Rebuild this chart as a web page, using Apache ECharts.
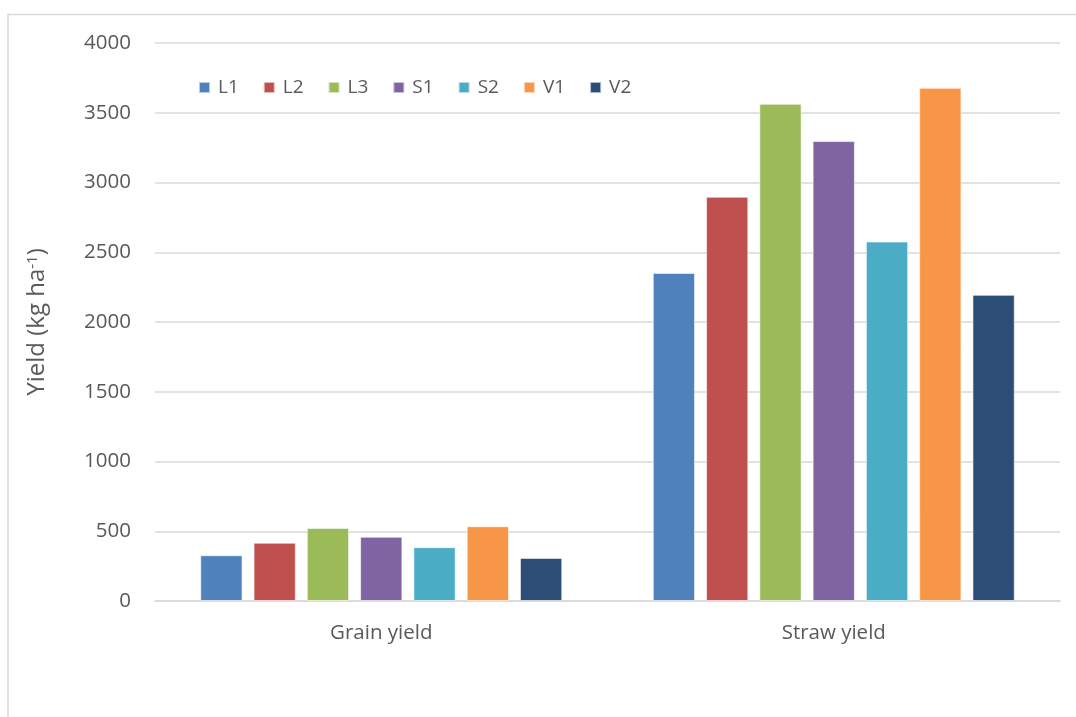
<!DOCTYPE html>
<html>
<head>
<meta charset="utf-8">
<script src="https://cdn.jsdelivr.net/npm/echarts@6/dist/echarts.min.js"></script>
<style>
html,body{margin:0;padding:0;background:#fff;}
#chart{width:1076px;height:717px;}
</style>
</head>
<body>
<div id="chart"></div>
<script>
const categories = ['Grain yield', 'Straw yield'];
const seriesNames = ['L1', 'L2', 'L3', 'S1', 'S2', 'V1', 'V2'];
const L1 = [328, 2352];
const L2 = [418, 2898];
const L3 = [524, 3564];
const S1 = [461, 3297];
const S2 = [386, 2577];
const V1 = [536, 3679];
const V2 = [309, 2195];
const yTicks = [0, 500, 1000, 1500, 2000, 2500, 3000, 3500, 4000];

const values = [L1, L2, L3, S1, S2, V1, V2];
const colors = ['#4F81BD', '#C0504D', '#9BBB59', '#8064A2', '#4BACC6', '#F79646', '#2C4D75'];
const FONT = 'Open Sans';
const TXT = '#595959';

const chart = echarts.init(document.getElementById('chart'), null, {renderer: 'canvas'});
chart.setOption({
  animation: false,
  backgroundColor: '#ffffff',
  textStyle: {fontFamily: FONT},
  graphic: [{
    type: 'rect',
    shape: {x: 8, y: 14.5, width: 1100, height: 720},
    style: {fill: 'none', stroke: '#d9d9d9', lineWidth: 1.5},
    silent: true,
    z: -1
  }],
  legend: {
    data: seriesNames,
    left: 193,
    top: 73,
    itemWidth: 11,
    itemHeight: 11,
    itemGap: 24,
    icon: 'rect',
    textStyle: {color: TXT, fontSize: 19, fontFamily: FONT, padding: [0, 0, 0, 3]}
  },
  grid: {left: 155, right: 16, top: 43, bottom: 116, containLabel: false},
  xAxis: {
    type: 'category',
    data: categories,
    axisLine: {lineStyle: {color: '#d9d9d9', width: 1.5}},
    axisTick: {show: false},
    axisLabel: {color: TXT, fontSize: 20.5, fontFamily: FONT, margin: 22}
  },
  yAxis: {
    type: 'value',
    min: yTicks[0],
    max: yTicks[yTicks.length - 1],
    interval: yTicks[1] - yTicks[0],
    axisLine: {show: false},
    axisTick: {show: false},
    axisLabel: {color: TXT, fontSize: 20.5, fontFamily: FONT, margin: 24, formatter: v => String(v)},
    splitLine: {lineStyle: {color: '#d9d9d9', width: 1.5}},
    name: '{n|Yield (kg ha}{s|-1}{n|)}',
    nameLocation: 'middle',
    nameGap: 106,
    nameTextStyle: {
      rich: {
        n: {color: TXT, fontSize: 24, fontFamily: FONT},
        s: {color: TXT, fontSize: 15, fontFamily: FONT, verticalAlign: 'top', padding: [0, 0, 9, 0]}
      }
    }
  },
  series: seriesNames.map((n, i) => ({
    name: n,
    type: 'bar',
    data: values[i],
    barGap: '26%',
    barCategoryGap: '20%',
    itemStyle: {color: colors[i], borderColor: 'rgba(255,255,255,0.6)', borderWidth: 1}
  }))
});
</script>
</body>
</html>
